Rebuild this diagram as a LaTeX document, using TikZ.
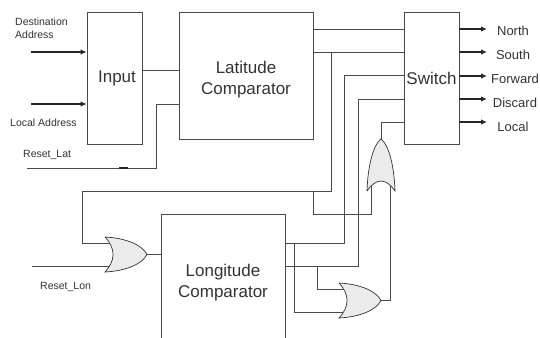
\documentclass[tikz,border=0pt]{standalone}
\usepackage{fontspec}
\setmainfont{Liberation Sans}
\usetikzlibrary{arrows.meta, positioning, calc}
\definecolor{wire}{HTML}{4A4A4A}
\definecolor{ink}{HTML}{333333}
\tikzset{
  box/.style    ={draw=wire, line width=0.8pt, align=center, text=ink,
                  font=\fontsize{17}{21}\selectfont, inner sep=0pt},
  lbl/.style    ={font=\fontsize{10.5}{13}\selectfont, text=ink, inner sep=0pt, align=left},
  outlbl/.style ={font=\fontsize{13}{15}\selectfont, text=ink, inner sep=0pt},
  wireline/.style={draw=wire, line width=0.8pt},
  arr/.style    ={-{Latex[length=6pt, width=5.5pt]}, line width=1.1pt, draw=black!85},
  orgate/.pic={
    \coordinate (-in1) at (4,-11.5);
    \coordinate (-in2) at (4,11.5);
    \coordinate (-out) at (42,0);
    \draw[draw=black!80, line width=0.7pt, fill=black!8]
      (0,-17.5) .. controls (20,-16.5) and (37,-10) .. (42,0)
      .. controls (37,10) and (20,16.5) .. (0,17.5)
      .. controls (10.7,6) and (10.7,-6) .. (0,-17.5);
  },
}
\begin{document}
\begin{tikzpicture}[x=1pt, y=-1pt]
  \useasboundingbox (0,0) rectangle (540,337);
  \clip (0,0) rectangle (540,337);

  % Blocks
  \node[box, minimum width=55pt, minimum height=132pt]  (input)  at (114.5,78) {\hspace{5pt}Input};
  \node[box, minimum width=134pt, minimum height=127pt] (lat)    at (246,75.5)
    {\rule{0pt}{21pt}Latitude\\Comparator};
  \node[box, minimum width=55pt, minimum height=132pt]  (switch) at (431.5,78) {Switch};
  \node[box, minimum width=124pt, minimum height=130pt] (lon)    at (223,279)
    {\rule{0pt}{19pt}Longitude\\Comparator};

  % Gates
  \pic (orlon) at (105,254.5) {orgate};
  \pic (orlow) at (339,300.5) {orgate};
  \pic[rotate=90, xscale=1.24, yscale=0.8] (orup) at (381,191) {orgate};

  % Inputs
  \coordinate (dest)   at (31,52);
  \coordinate (local)  at (31,104);
  \coordinate (rstlat) at (27,168);
  \coordinate (rstlon) at (32,266);
  \draw[arr] (dest)  -- (input.west |- dest);
  \draw[arr] (local) -- (input.west |- local);
  \node[lbl, anchor=west] (destlbl)  at (15,28.5) {Destination\\Address};
  \node[lbl, anchor=west] (locallbl) at (10,123) {Local Address};
  \node[lbl, anchor=west] (latlbl)   at (23,155) {Reset\_Lat};
  \node[lbl, anchor=west] (lonlbl)   at (40,287) {Reset\_Lon};

  % Reset and input wires
  \draw[wireline] (input.east |- 0,70) -- (lat.west |- 0,70);
  \draw[wireline] (rstlat) -- (156,168) |- (lat.west |- 0,104);
  \draw[line width=1.6pt, draw=black!85] (119,168) -- (128,168);
  \draw[wireline] (rstlon) -- (orlon-in2);
  \draw[wireline] (orlon-out) -- (lon.west |- orlon-out);

  % Latitude to switch
  \coordinate (latlow) at (lat.east |- 0,52);
  \coordinate (latbus) at (331,52);
  \coordinate (fbk)    at (313,191);
  \draw[wireline] (lat.east |- 0,29) -- (switch.west |- 0,29);
  \draw[wireline] (latlow) -- (switch.west |- latlow);
  \draw[wireline] (latbus) -- (331,191) -- (82,191) |- (orlon-in1);
  \draw[wireline] (fbk) -- (313,214) -| (orup-in1);

  % Longitude to switch
  \coordinate (lonup) at (lon.east |- 0,243);
  \coordinate (londn) at (lon.east |- 0,266);
  \draw[wireline] (switch.west |- 0,75) -| (344,243) -- (lonup);
  \draw[wireline] (switch.west |- 0,99) -| (358,266) -- (londn);
  \draw[wireline] (switch.west |- 0,122) -| (orup-out);
  \draw[wireline] (317,266) |- (orlow-in1);
  \draw[wireline] (294,243) |- (orlow-in2);
  \draw[wireline] (orlow-out) -| (orup-in2);

  % Outputs
  \foreach \name/\ypos/\xlbl/\ylbl in {North/29/513/30.5, South/52/513/54.5, Forward/76/515/78.5, Discard/99/515/102.5, Local/122/513/126.5} {
    \draw[arr] (switch.east |- 0,\ypos) -- (487,\ypos);
    \node[outlbl] (out\name) at (\xlbl,\ylbl) {\name};
  }
\end{tikzpicture}
\end{document}
